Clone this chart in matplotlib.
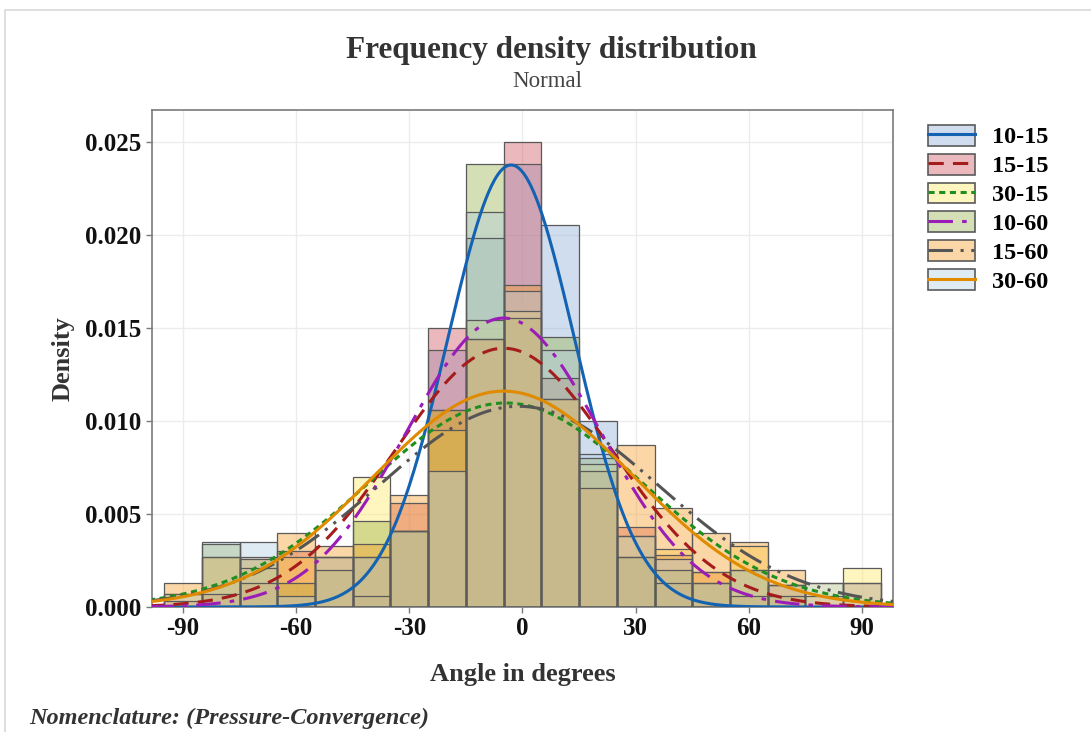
import numpy as np
import matplotlib.pyplot as plt
from matplotlib.patches import Patch, Rectangle
from matplotlib.lines import Line2D

# bin centres (degrees), width 10
centers = [-90, -80, -70, -60, -50, -40, -30, -20, -10, 0, 10, 20, 30, 40, 50, 60, 70, 80, 90]

labels = ["10-15", "15-15", "30-15", "10-60", "15-60", "30-60"]

# density per bin
d_10_15 = [0, 0, 0, 0, 0, 0.0006, 0.0041, 0.0138, 0.0198, 0.0238, 0.0205, 0.0100,
           0.0027, 0.0013, 0, 0, 0, 0, 0]
d_15_15 = [0.0003, 0.0007, 0.0013, 0.0030, 0.0027, 0.0027, 0.0056, 0.0150, 0.0144, 0.0250,
           0.0123, 0.0073, 0.0043, 0.0028, 0.0019, 0.0006, 0.0012, 0, 0]
d_30_15 = [0.0007, 0.0027, 0.0021, 0.0027, 0.0027, 0.0070, 0.0041, 0.0095, 0.0154, 0.0159,
           0.0112, 0.0077, 0.0038, 0.0031, 0.0019, 0.0033, 0.0012, 0.0013, 0.0021]
d_10_60 = [0, 0.0034, 0.0026, 0.0013, 0.0020, 0.0046, 0.0041, 0.0106, 0.0238, 0.0155,
           0.0145, 0.0080, 0.0027, 0.0020, 0.0013, 0.0020, 0.0006, 0, 0]
d_15_60 = [0.0013, 0.0027, 0.0027, 0.0040, 0.0033, 0.0034, 0.0060, 0.0106, 0.0144, 0.0173,
           0.0112, 0.0064, 0.0087, 0.0053, 0.0040, 0.0035, 0.0020, 0.0006, 0.0013]
d_30_60 = [0.0007, 0.0035, 0.0035, 0.0006, 0.0027, 0.0027, 0.0041, 0.0073, 0.0212, 0.0170,
           0.0138, 0.0082, 0.0038, 0.0026, 0.0013, 0.0020, 0.0012, 0.0013, 0.0013]

# fitted normal parameters
means = [-3.0, -5.0, -4.5, -5.0, -1.0, -5.0]
sds = [16.8, 28.7, 36.4, 25.7, 37.0, 34.4]

fills = ["#89acd9", "#cd505c", "#ffe861", "#96b146", "#f79d25", "#b1cde1"]
line_colors = ["#1463b3", "#a51c1c", "#1f8f1f", "#9b1db8", "#555555", "#e08a00"]
line_styles = ["-", (0, (5, 3)), (0, (2, 1.5)), (0, (8, 3, 1.5, 3)), (0, (8, 2.5, 1, 2.5, 1, 2.5)), "-"]

series = [d_10_15, d_15_15, d_30_15, d_10_60, d_15_60, d_30_60]

plt.rcParams['font.family'] = ['Liberation Serif', 'DejaVu Serif']
plt.rcParams['axes.unicode_minus'] = False

fig = plt.figure(figsize=(10.91, 7.32), dpi=100)
ax = fig.add_axes([0.1393, 0.1708, 0.6792, 0.6789])

alpha = 0.4
for vals, fc in zip(series, fills):
    ax.bar(centers, vals, width=10, color=fc, alpha=alpha, edgecolor="none", zorder=2)
    ax.bar(centers, vals, width=10, facecolor="none", edgecolor="#5a5a5a", linewidth=0.9,
           zorder=3)

x = np.linspace(-99, 99, 500)
for m, s, c, ls in zip(means, sds, line_colors, line_styles):
    y = np.exp(-0.5 * ((x - m) / s) ** 2) / (s * np.sqrt(2 * np.pi))
    ax.plot(x, y, color=c, linestyle=ls, linewidth=2.2, zorder=4)

ax.set_xlim(-98.2, 98.2)
ax.set_ylim(0, 0.0267)
ax.set_xticks([-90, -60, -30, 0, 30, 60, 90])
ax.set_yticks([0, 0.005, 0.010, 0.015, 0.020, 0.025])
ax.set_yticklabels(["0.000", "0.005", "0.010", "0.015", "0.020", "0.025"])
ax.grid(True, color="#ececec", linewidth=1.0, zorder=0)
ax.set_axisbelow(True)
for sp in ax.spines.values():
    sp.set_color("#7a7a7a")
    sp.set_linewidth(1.2)
ax.tick_params(colors="#7a7a7a", length=4, width=1, labelcolor="#111111", labelsize=18)
for lab in ax.get_xticklabels() + ax.get_yticklabels():
    lab.set_fontweight("bold")

ax.set_xlabel("Angle in degrees", fontsize=19, fontweight="bold", color="#333333", labelpad=16)
ax.set_ylabel("Density", fontsize=19, fontweight="bold", color="#333333", labelpad=8)

fig.text(0.505, 0.931, "Frequency density distribution", ha="center", va="center",
         fontsize=22.5, fontweight="bold", color="#333333")
fig.text(0.502, 0.888, "Normal", ha="center", va="center", fontsize=16.5, color="#444444")
fig.text(0.027, 0.018, "Nomenclature: (Pressure-Convergence)", ha="left", va="center",
         fontsize=17.5, fontweight="bold", style="italic", color="#333333")

handles = []
for fc, c, ls in zip(fills, line_colors, line_styles):
    p = Patch(facecolor=fc, alpha=alpha, edgecolor="none")
    e = Patch(facecolor="none", edgecolor="#5a5a5a", linewidth=1.2)
    ln = Line2D([], [], color=c, linestyle=ls, linewidth=2.2)
    handles.append((p, e, ln))
fig.legend(handles, labels, loc="upper left", bbox_to_anchor=(0.8415, 0.843),
           frameon=False, prop={"size": 17.5, "weight": "bold"}, handlelength=1.95,
           handleheight=0.95, labelspacing=0.21, handletextpad=0.7, borderaxespad=0)

fig.patches.append(Rectangle((0.005, -0.01), 1.0, 0.997, transform=fig.transFigure,
                             facecolor="none", edgecolor="#d8d8d8", linewidth=1.2))

fig.savefig("out.png", dpi=100)
